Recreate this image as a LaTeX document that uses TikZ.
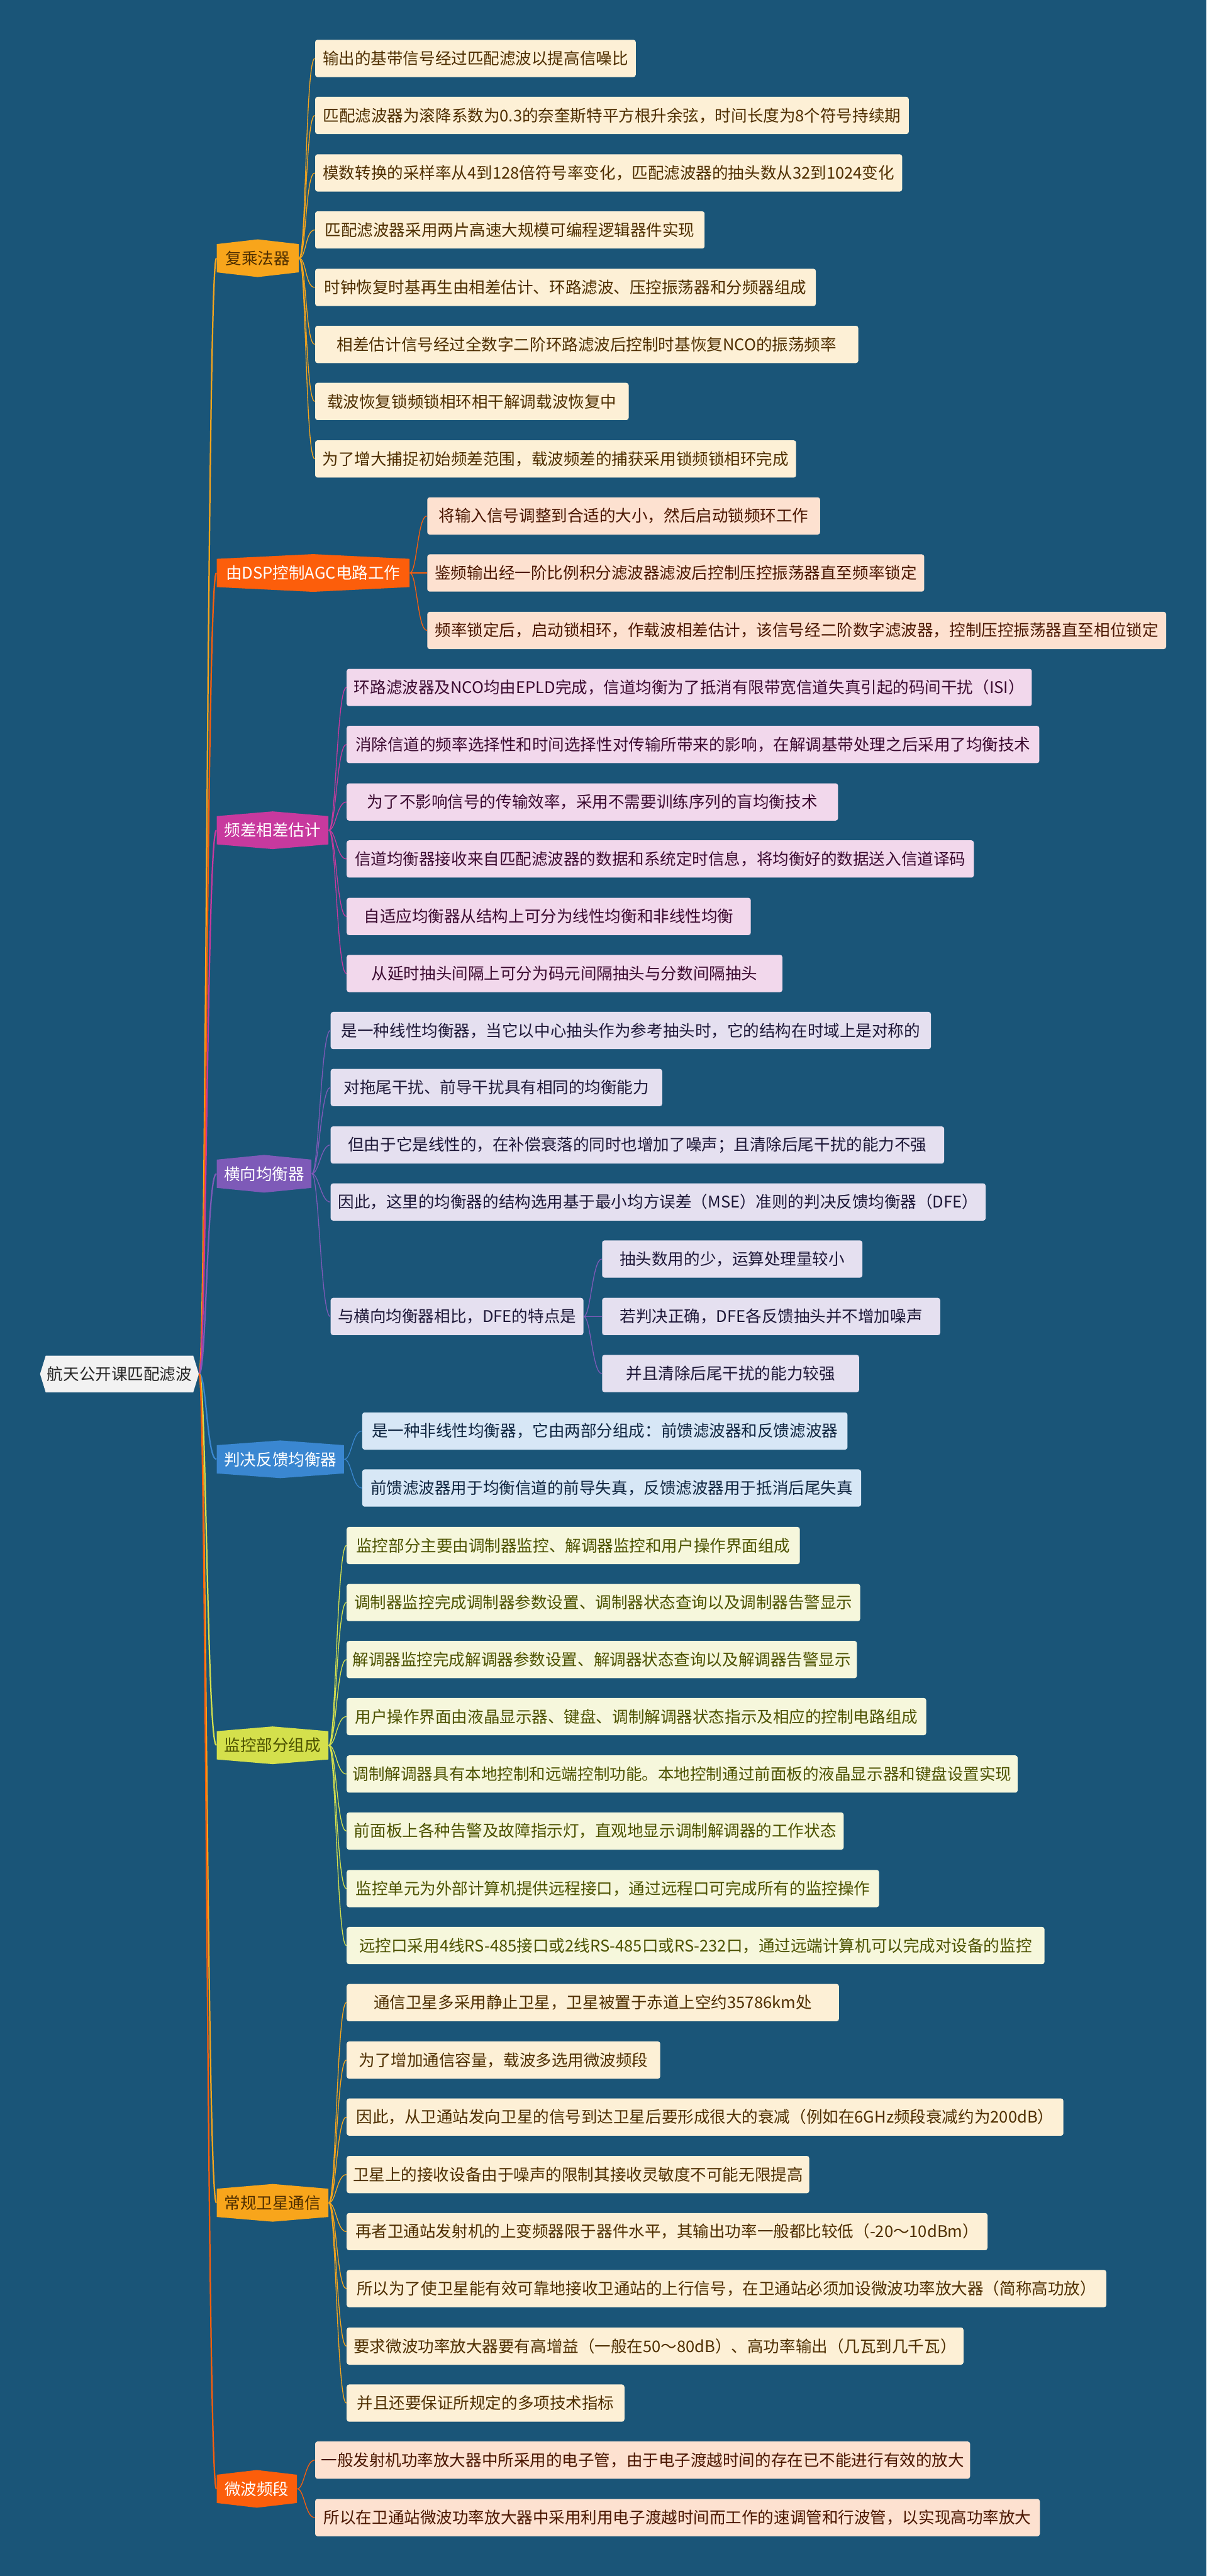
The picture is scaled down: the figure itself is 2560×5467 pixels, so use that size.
\documentclass[tikz,border=0pt]{standalone}
\usepackage{fontspec}
\setmainfont{Noto Sans CJK SC}
\usepackage{tikz}

\definecolor{bgblue}{HTML}{1A5578}
\definecolor{rootfill}{HTML}{F2F2F2}
\definecolor{orbranch}{HTML}{F8A51B}
\definecolor{orfill}{HTML}{FDF0D6}
\definecolor{ortext}{HTML}{4E2E00}
\definecolor{rdbranch}{HTML}{FC5E0B}
\definecolor{rdfill}{HTML}{FDE1D0}
\definecolor{rdtext}{HTML}{4A1600}
\definecolor{mgbranch}{HTML}{C8399E}
\definecolor{mgfill}{HTML}{F2D8EC}
\definecolor{mgtext}{HTML}{3B0A30}
\definecolor{pubranch}{HTML}{7E5AB8}
\definecolor{pufill}{HTML}{E5E0F0}
\definecolor{putext}{HTML}{1E1838}
\definecolor{blbranch}{HTML}{3A87D1}
\definecolor{blfill}{HTML}{D7E7F6}
\definecolor{bltext}{HTML}{0F2540}
\definecolor{ygbranch}{HTML}{D4E04C}
\definecolor{ygfill}{HTML}{F6F7DC}
\definecolor{ygtext}{HTML}{4C5200}

\def\link[#1](#2)(#3){\draw[#1] (#2.east) .. controls +(15,0) and +(-20,0) .. (#3.west);}

\tikzset{
  maptext/.style={font=\fontsize{9.7pt}{11pt}\selectfont, inner sep=0pt},
  branch/.style={maptext, minimum height=0.8cm},
  leaf/.style={maptext, anchor=west, minimum height=0.79cm, rounded corners=0.05cm},
  orleaf/.style={leaf, fill=orfill, text=ortext},
  rdleaf/.style={leaf, fill=rdfill, text=rdtext},
  mgleaf/.style={leaf, fill=mgfill, text=mgtext},
  puleaf/.style={leaf, fill=pufill, text=putext},
  blleaf/.style={leaf, fill=blfill, text=bltext},
  ygleaf/.style={leaf, fill=ygfill, text=ygtext},
  rootline/.style={line width=0.85pt},
  leafline/.style={line width=0.5pt},
}

\begin{document}
\begin{tikzpicture}[x=0.01cm, y=-0.01cm]
	%%%%% START %%%%%
	
	\fill[bgblue] (0,0) rectangle (2560,5467);
	
	% root
	\fill[rootfill] (85,2916) -- (97,2877) -- (410,2877) -- (422,2916) -- (410,2955) -- (97,2955) -- cycle;
	\node[branch, minimum width=3.37cm, text=black!85] (root) at (253.5,2916) {航天公开课匹配滤波};
	
	% 复乘法器
	\fill[orbranch] (460,518) -- (547,508) -- (634,518) -- (634,578) -- (547,588) -- (460,578) -- cycle;
	\node[branch, minimum width=1.74cm, text=ortext] (fc) at (547,548) {复乘法器};
	\node[orleaf, minimum width=6.80cm] (fc1) at (668,124) {输出的基带信号经过匹配滤波以提高信噪比};
	\node[orleaf, minimum width=12.59cm] (fc2) at (668,245) {匹配滤波器为滚降系数为0.3的奈奎斯特平方根升余弦，时间长度为8个符号持续期};
	\node[orleaf, minimum width=12.45cm] (fc3) at (668,367) {模数转换的采样率从4到128倍符号率变化，匹配滤波器的抽头数从32到1024变化};
	\node[orleaf, minimum width=8.26cm] (fc4) at (668,488) {匹配滤波器采用两片高速大规模可编程逻辑器件实现};
	\node[orleaf, minimum width=10.62cm] (fc5) at (668,610) {时钟恢复时基再生由相差估计、环路滤波、压控振荡器和分频器组成};
	\node[orleaf, minimum width=11.52cm] (fc6) at (668,731) {相差估计信号经过全数字二阶环路滤波后控制时基恢复NCO的振荡频率};
	\node[orleaf, minimum width=6.65cm] (fc7) at (668,852) {载波恢复锁频锁相环相干解调载波恢复中};
	\node[orleaf, minimum width=10.20cm] (fc8) at (668,974) {为了增大捕捉初始频差范围，载波频差的捕获采用锁频锁相环完成};
	
	% 由DSP控制AGC电路工作
	\fill[rdbranch] (460,1186) -- (664.5,1176) -- (869,1186) -- (869,1246) -- (664.5,1256) -- (460,1246) -- cycle;
	\node[branch, minimum width=4.09cm, text=white] (agc) at (664.5,1216) {由DSP控制AGC电路工作};
	\node[rdleaf, minimum width=8.33cm] (agc1) at (906,1095) {将输入信号调整到合适的大小，然后启动锁频环工作};
	\node[rdleaf, minimum width=10.54cm] (agc2) at (906,1216) {鉴频输出经一阶比例积分滤波器滤波后控制压控振荡器直至频率锁定};
	\node[rdleaf, minimum width=15.67cm] (agc3) at (906,1338) {频率锁定后，启动锁相环，作载波相差估计，该信号经二阶数字滤波器，控制压控振荡器直至相位锁定};
	
	% 频差相差估计
	\fill[mgbranch] (460,1732) -- (578.5,1722) -- (697,1732) -- (697,1792) -- (578.5,1802) -- (460,1792) -- cycle;
	\node[branch, minimum width=2.37cm, text=white] (fd) at (578.5,1762) {频差相差估计};
	\node[mgleaf, minimum width=14.53cm] (fd1) at (735,1459) {环路滤波器及NCO均由EPLD完成，信道均衡为了抵消有限带宽信道失真引起的码间干扰（ISI）};
	\node[mgleaf, minimum width=14.69cm] (fd2) at (735,1580) {消除信道的频率选择性和时间选择性对传输所带来的影响，在解调基带处理之后采用了均衡技术};
	\node[mgleaf, minimum width=10.42cm] (fd3) at (735,1702) {为了不影响信号的传输效率，采用不需要训练序列的盲均衡技术};
	\node[mgleaf, minimum width=13.30cm] (fd4) at (735,1823) {信道均衡器接收来自匹配滤波器的数据和系统定时信息，将均衡好的数据送入信道译码};
	\node[mgleaf, minimum width=8.57cm] (fd5) at (735,1945) {自适应均衡器从结构上可分为线性均衡和非线性均衡};
	\node[mgleaf, minimum width=9.24cm] (fd6) at (735,2066) {从延时抽头间隔上可分为码元间隔抽头与分数间隔抽头};
	
	% 横向均衡器
	\fill[pubranch] (460,2461) -- (560.5,2451) -- (661,2461) -- (661,2521) -- (560.5,2531) -- (460,2521) -- cycle;
	\node[branch, minimum width=2.01cm, text=white] (hx) at (560.5,2491) {横向均衡器};
	\node[puleaf, minimum width=12.73cm] (hx1) at (701,2187) {是一种线性均衡器，当它以中心抽头作为参考抽头时，它的结构在时域上是对称的};
	\node[puleaf, minimum width=7.03cm] (hx2) at (701,2308) {对拖尾干扰、前导干扰具有相同的均衡能力};
	\node[puleaf, minimum width=13.01cm] (hx3) at (701,2430) {但由于它是线性的，在补偿衰落的同时也增加了噪声；且清除后尾干扰的能力不强};
	\node[puleaf, minimum width=13.89cm] (hx4) at (701,2551) {因此，这里的均衡器的结构选用基于最小均方误差（MSE）准则的判决反馈均衡器（DFE）};
	\node[puleaf, minimum width=5.36cm] (hx5) at (701,2794) {与横向均衡器相比，DFE的特点是};
	\node[puleaf, minimum width=5.52cm] (hx5a) at (1277,2672) {抽头数用的少，运算处理量较小};
	\node[puleaf, minimum width=7.17cm] (hx5b) at (1277,2794) {若判决正确，DFE各反馈抽头并不增加噪声};
	\node[puleaf, minimum width=5.45cm] (hx5c) at (1277,2915) {并且清除后尾干扰的能力较强};
	
	% 判决反馈均衡器
	\fill[blbranch] (460,3067) -- (595,3057) -- (730,3067) -- (730,3127) -- (595,3137) -- (460,3127) -- cycle;
	\node[branch, minimum width=2.70cm, text=white] (pj) at (595,3097) {判决反馈均衡器};
	\node[blleaf, minimum width=10.29cm] (pj1) at (768,3037) {是一种非线性均衡器，它由两部分组成：前馈滤波器和反馈滤波器};
	\node[blleaf, minimum width=10.58cm] (pj2) at (768,3158) {前馈滤波器用于均衡信道的前导失真，反馈滤波器用于抵消后尾失真};
	
	% 监控部分组成
	\fill[ygbranch] (460,3674) -- (578.5,3664) -- (697,3674) -- (697,3734) -- (578.5,3744) -- (460,3734) -- cycle;
	\node[branch, minimum width=2.37cm, text=ygtext] (jk) at (578.5,3704) {监控部分组成};
	\node[ygleaf, minimum width=9.61cm] (jk1) at (735,3280) {监控部分主要由调制器监控、解调器监控和用户操作界面组成};
	\node[ygleaf, minimum width=10.89cm] (jk2) at (735,3401) {调制器监控完成调制器参数设置、调制器状态查询以及调制器告警显示};
	\node[ygleaf, minimum width=10.82cm] (jk3) at (735,3522) {解调器监控完成解调器参数设置、解调器状态查询以及解调器告警显示};
	\node[ygleaf, minimum width=12.29cm] (jk4) at (735,3643) {用户操作界面由液晶显示器、键盘、调制解调器状态指示及相应的控制电路组成};
	\node[ygleaf, minimum width=14.23cm] (jk5) at (735,3765) {调制解调器具有本地控制和远端控制功能。本地控制通过前面板的液晶显示器和键盘设置实现};
	\node[ygleaf, minimum width=10.54cm] (jk6) at (735,3886) {前面板上各种告警及故障指示灯，直观地显示调制解调器的工作状态};
	\node[ygleaf, minimum width=11.29cm] (jk7) at (735,4008) {监控单元为外部计算机提供远程接口，通过远程口可完成所有的监控操作};
	\node[ygleaf, minimum width=14.80cm] (jk8) at (735,4129) {远控口采用4线RS-485接口或2线RS-485口或RS-232口，通过远端计算机可以完成对设备的监控};
	
	% 常规卫星通信
	\fill[orbranch] (460,4645) -- (578.5,4635) -- (697,4645) -- (697,4705) -- (578.5,4715) -- (460,4705) -- cycle;
	\node[branch, minimum width=2.37cm, text=ortext] (wx) at (578.5,4675) {常规卫星通信};
	\node[orleaf, minimum width=10.44cm] (wx1) at (735,4250) {通信卫星多采用静止卫星，卫星被置于赤道上空约35786km处};
	\node[orleaf, minimum width=6.65cm] (wx2) at (735,4372) {为了增加通信容量，载波多选用微波频段};
	\node[orleaf, minimum width=15.20cm] (wx3) at (735,4493) {因此，从卫通站发向卫星的信号到达卫星后要形成很大的衰减（例如在6GHz频段衰减约为200dB）};
	\node[orleaf, minimum width=9.81cm] (wx4) at (735,4615) {卫星上的接收设备由于噪声的限制其接收灵敏度不可能无限提高};
	\node[orleaf, minimum width=13.59cm] (wx5) at (735,4736) {再者卫通站发射机的上变频器限于器件水平，其输出功率一般都比较低（-20～10dBm）};
	\node[orleaf, minimum width=16.11cm] (wx6) at (735,4857) {所以为了使卫星能有效可靠地接收卫通站的上行信号，在卫通站必须加设微波功率放大器（简称高功放）};
	\node[orleaf, minimum width=13.08cm] (wx7) at (735,4979) {要求微波功率放大器要有高增益（一般在50～80dB）、高功率输出（几瓦到几千瓦）};
	\node[orleaf, minimum width=5.89cm] (wx8) at (735,5100) {并且还要保证所规定的多项技术指标};
	
	% 微波频段
	\fill[rdbranch] (460,5252) -- (545,5242) -- (630,5252) -- (630,5312) -- (545,5322) -- (460,5312) -- cycle;
	\node[branch, minimum width=1.70cm, text=white] (wb) at (545,5282) {微波频段};
	\node[rdleaf, minimum width=13.89cm] (wb1) at (668,5221) {一般发射机功率放大器中所采用的电子管，由于电子渡越时间的存在已不能进行有效的放大};
	\node[rdleaf, minimum width=15.37cm] (wb2) at (668,5343) {所以在卫通站微波功率放大器中采用利用电子渡越时间而工作的速调管和行波管，以实现高功率放大};
	
	%%%%% LINKS %%%%%
	
	\link[rootline, orbranch](root)(fc)
	\link[rootline, rdbranch](root)(agc)
	\link[rootline, mgbranch](root)(fd)
	\link[rootline, pubranch](root)(hx)
	\link[rootline, blbranch](root)(pj)
	\link[rootline, ygbranch](root)(jk)
	\link[rootline, orbranch](root)(wx)
	\link[rootline, rdbranch](root)(wb)
	
	\link[leafline, orbranch](fc)(fc1)
	\link[leafline, orbranch](fc)(fc2)
	\link[leafline, orbranch](fc)(fc3)
	\link[leafline, orbranch](fc)(fc4)
	\link[leafline, orbranch](fc)(fc5)
	\link[leafline, orbranch](fc)(fc6)
	\link[leafline, orbranch](fc)(fc7)
	\link[leafline, orbranch](fc)(fc8)
	
	\link[leafline, rdbranch](agc)(agc1)
	\link[leafline, rdbranch](agc)(agc2)
	\link[leafline, rdbranch](agc)(agc3)
	
	\link[leafline, mgbranch](fd)(fd1)
	\link[leafline, mgbranch](fd)(fd2)
	\link[leafline, mgbranch](fd)(fd3)
	\link[leafline, mgbranch](fd)(fd4)
	\link[leafline, mgbranch](fd)(fd5)
	\link[leafline, mgbranch](fd)(fd6)
	
	\link[leafline, pubranch](hx)(hx1)
	\link[leafline, pubranch](hx)(hx2)
	\link[leafline, pubranch](hx)(hx3)
	\link[leafline, pubranch](hx)(hx4)
	\link[leafline, pubranch](hx)(hx5)
	\link[leafline, pubranch](hx5)(hx5a)
	\link[leafline, pubranch](hx5)(hx5b)
	\link[leafline, pubranch](hx5)(hx5c)
	
	\link[leafline, blbranch](pj)(pj1)
	\link[leafline, blbranch](pj)(pj2)
	
	\link[leafline, ygbranch](jk)(jk1)
	\link[leafline, ygbranch](jk)(jk2)
	\link[leafline, ygbranch](jk)(jk3)
	\link[leafline, ygbranch](jk)(jk4)
	\link[leafline, ygbranch](jk)(jk5)
	\link[leafline, ygbranch](jk)(jk6)
	\link[leafline, ygbranch](jk)(jk7)
	\link[leafline, ygbranch](jk)(jk8)
	
	\link[leafline, orbranch](wx)(wx1)
	\link[leafline, orbranch](wx)(wx2)
	\link[leafline, orbranch](wx)(wx3)
	\link[leafline, orbranch](wx)(wx4)
	\link[leafline, orbranch](wx)(wx5)
	\link[leafline, orbranch](wx)(wx6)
	\link[leafline, orbranch](wx)(wx7)
	\link[leafline, orbranch](wx)(wx8)
	
	\link[leafline, rdbranch](wb)(wb1)
	\link[leafline, rdbranch](wb)(wb2)
	
	%%%%% END %%%%%
\end{tikzpicture}
\end{document}
